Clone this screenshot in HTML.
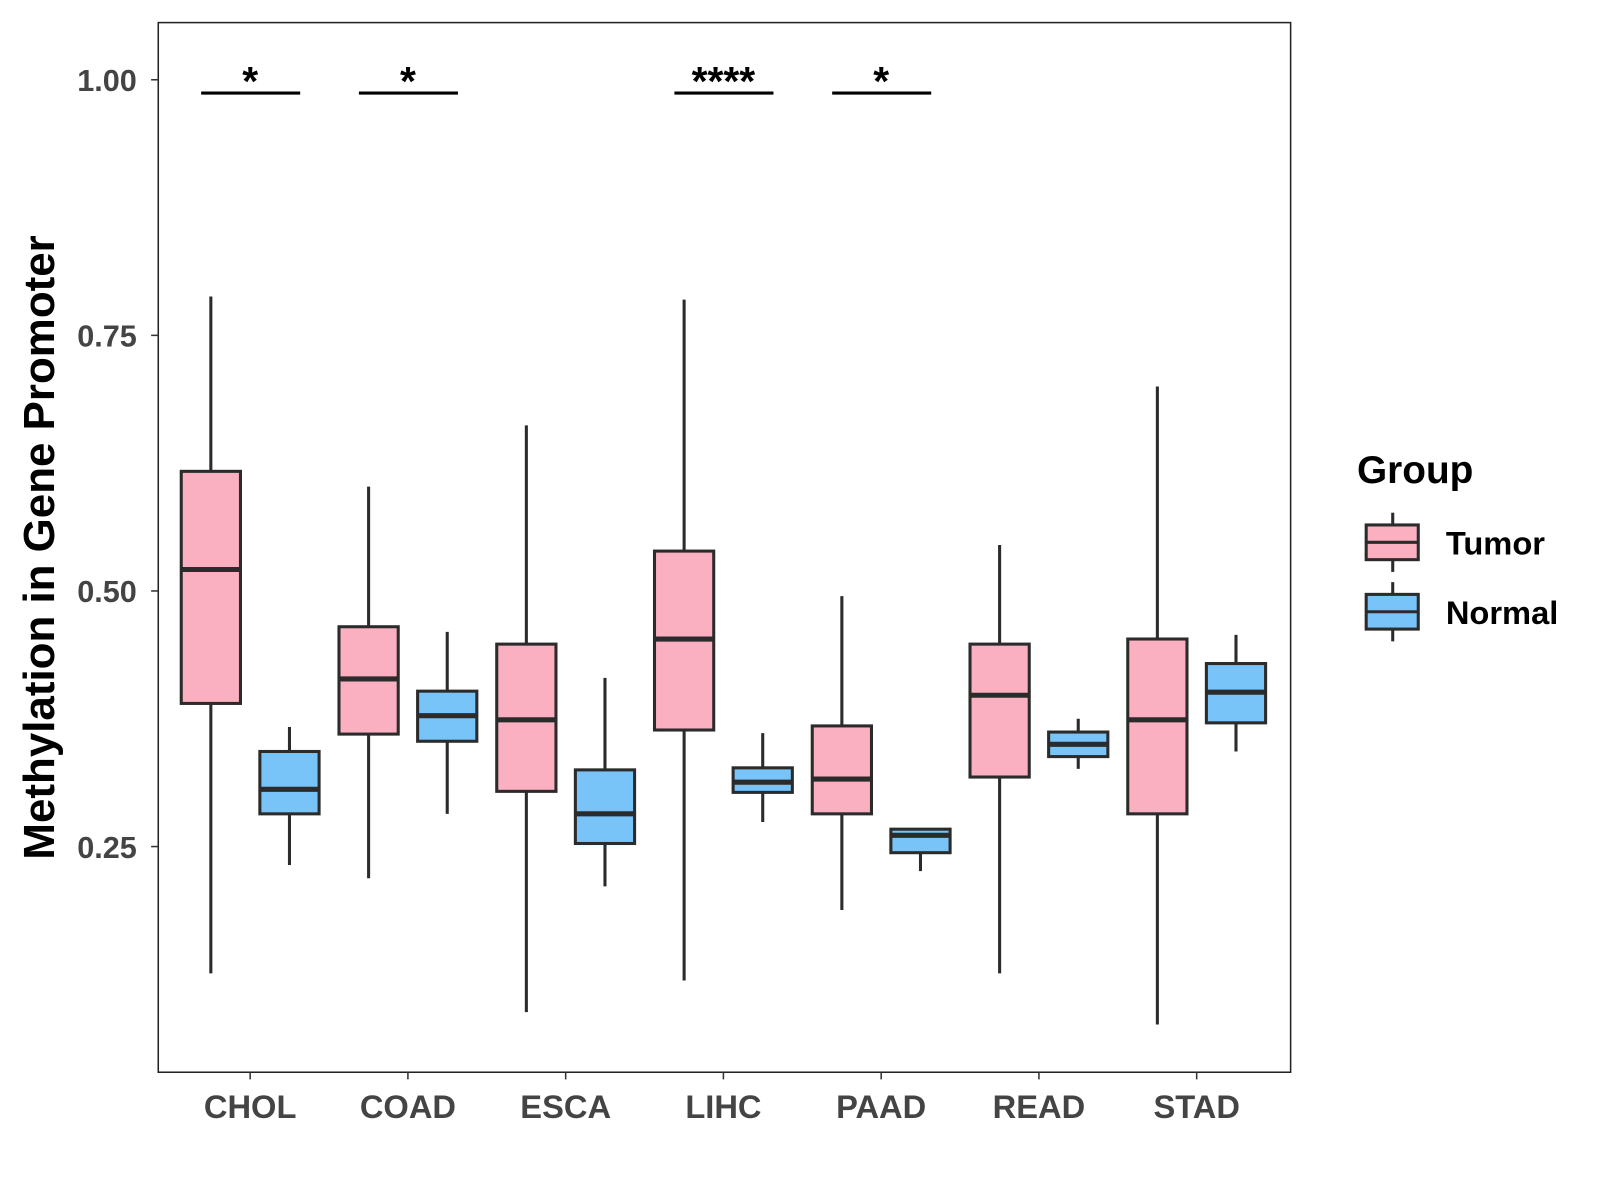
<!DOCTYPE html>
<html><head><meta charset="utf-8"><style>
html,body{margin:0;padding:0;background:#fff;}
svg{display:block;font-family:"Liberation Sans",Arial,sans-serif;}
</style></head><body>
<svg id="chart" width="1600" height="1200" viewBox="0 0 1567 1175">
<rect x="0" y="0" width="1567" height="1175" fill="#fff"/>
<rect x="155" y="22" width="1109" height="1028" fill="#fff" stroke="#222" stroke-width="1.5"/>
<g id="marks"></g>
<text transform="translate(53,536) rotate(-90)" text-anchor="middle" font-size="43" font-weight="bold" fill="#000">Methylation in Gene Promoter</text>
<text x="1329" y="473" font-size="38" font-weight="bold" fill="#000">Group</text>
<g>
<line x1="1364" x2="1364" y1="502" y2="560" stroke="#2b2b2b" stroke-width="3"/>
<rect x="1338" y="514" width="51" height="34" fill="#FBB0C1" stroke="#2b2b2b" stroke-width="3"/>
<line x1="1338" x2="1389" y1="531" y2="531" stroke="#2b2b2b" stroke-width="3"/>
<text x="1416" y="543" font-size="32" font-weight="bold" fill="#000">Tumor</text>
</g>
<g>
<line x1="1364" x2="1364" y1="570" y2="628" stroke="#2b2b2b" stroke-width="3"/>
<rect x="1338" y="582" width="51" height="34" fill="#78C3F8" stroke="#2b2b2b" stroke-width="3"/>
<line x1="1338" x2="1389" y1="599" y2="599" stroke="#2b2b2b" stroke-width="3"/>
<text x="1416" y="611" font-size="32" font-weight="bold" fill="#000">Normal</text>
</g>
</svg>
<script>
const categories = ["CHOL","COAD","ESCA","LIHC","PAAD","READ","STAD"];
// [lowerWhisker, Q1, median, Q3, upperWhisker]
const tumorStats = [
 [0.126,0.390,0.521,0.617,0.788],
 [0.219,0.360,0.414,0.465,0.602],
 [0.088,0.304,0.374,0.448,0.662],
 [0.119,0.364,0.453,0.539,0.785],
 [0.188,0.282,0.316,0.368,0.495],
 [0.126,0.318,0.398,0.448,0.545],
 [0.076,0.282,0.374,0.453,0.700]
];
const normalStats = [
 [0.232,0.282,0.306,0.343,0.367],
 [0.282,0.353,0.378,0.402,0.460],
 [0.211,0.253,0.282,0.325,0.415],
 [0.274,0.303,0.313,0.327,0.361],
 [0.226,0.244,0.261,0.267,0.267],
 [0.326,0.338,0.350,0.362,0.375],
 [0.343,0.371,0.401,0.429,0.457]
];
const yTicks = [0.25,0.50,0.75,1.00];
const yTickLabels = ["0.25","0.50","0.75","1.00"];
const sigLabels = ["*","*","","****","*","",""];

const NS="http://www.w3.org/2000/svg";
const g=document.getElementById("marks");
function y(v){return 78+(1-v)*1001.3;}
function x(i){return 245+i*154.5;}
function el(tag,attrs,parent){const e=document.createElementNS(NS,tag);for(const k in attrs)e.setAttribute(k,attrs[k]);(parent||g).appendChild(e);return e;}

yTicks.forEach((t,i)=>{
  const tk=el("line",{x1:148,x2:155,y1:y(t),y2:y(t),stroke:"#333","stroke-width":1.5});
  
  
  const tx=el("text",{x:134,y:y(t)+11,"text-anchor":"end","font-size":30,"font-weight":"bold",fill:"#444"});
  tx.textContent=yTickLabels[i];
  
  
});
categories.forEach((c,i)=>{
  const tk=el("line",{x1:x(i),x2:x(i),y1:1050,y2:1057,stroke:"#333","stroke-width":1.5});
  
  
  const tx=el("text",{x:x(i),y:1095,"text-anchor":"middle","font-size":32,"font-weight":"bold",fill:"#444"});
  tx.textContent=c;
  
  
});
function box(cx,s,fill,name){
  const grp=el("g",{});
  
  
  const w=29;
  el("line",{x1:cx,x2:cx,y1:y(s[4]),y2:y(s[0]),stroke:"#2b2b2b","stroke-width":3},grp);
  el("rect",{x:cx-w,y:y(s[3]),width:2*w,height:y(s[1])-y(s[3]),fill:fill,stroke:"#2b2b2b","stroke-width":3},grp);
  el("line",{x1:cx-w,x2:cx+w,y1:y(s[2]),y2:y(s[2]),stroke:"#2b2b2b","stroke-width":5},grp);
}
categories.forEach((c,i)=>{
  box(x(i)-38.5,tumorStats[i],"#FBB0C1","box-tumor-"+c.toLowerCase());
  box(x(i)+38.5,normalStats[i],"#78C3F8","box-normal-"+c.toLowerCase());
  if(sigLabels[i]){
    const ln=el("line",{x1:x(i)-48,x2:x(i)+49,y1:91,y2:91,stroke:"#000","stroke-width":3});
    
    
    const st=el("text",{x:x(i),y:93,"text-anchor":"middle","font-size":40,"font-weight":"bold",fill:"#000"});
    st.textContent=sigLabels[i];
    
    
  }
});
</script>
</body></html>
